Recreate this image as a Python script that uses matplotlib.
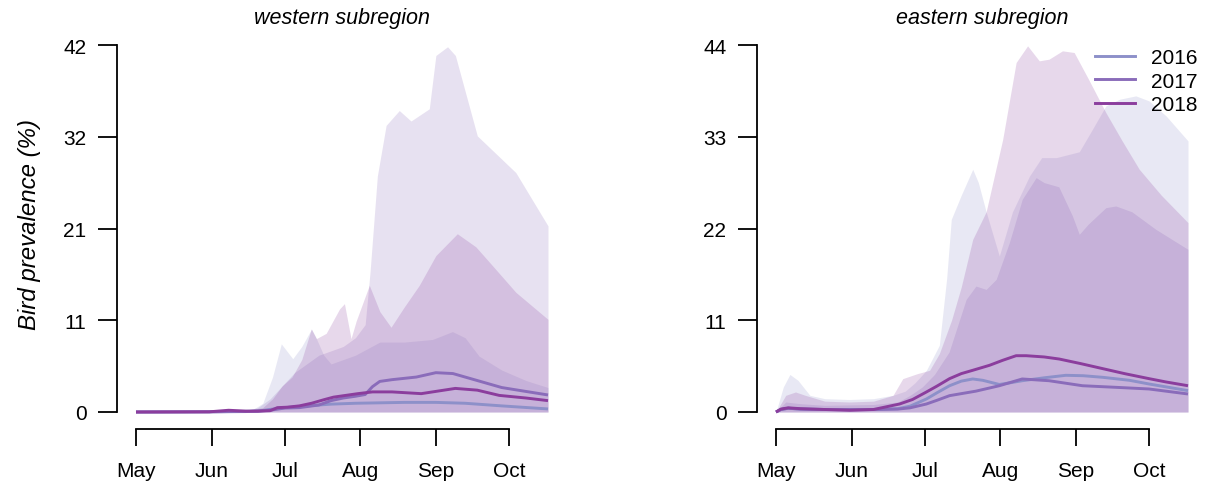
import matplotlib
matplotlib.use("Agg")
import matplotlib.pyplot as plt
from matplotlib.lines import Line2D

plt.rcParams["font.family"] = ["Liberation Sans", "DejaVu Sans"]

# days since 1 May
month_days = [0, 31, 61, 92, 123, 153]
month_labels = ["May", "Jun", "Jul", "Aug", "Sep", "Oct"]
years = ["2016", "2017", "2018"]
colors = ["#8d90c9", "#8a6cba", "#8b3d9d"]

# ---- western subregion ----
w16_day = [0, 30, 50, 55, 61, 70, 80, 90, 100, 110, 123, 135, 150, 169]
w16_mean = [0, 0.02, 0.1, 0.3, 0.5, 0.7, 0.9, 1.0, 1.05, 1.1, 1.1, 1.0, 0.7, 0.35]
w16_hi_day = [0, 40, 48, 52, 56, 59.6, 64.3, 68, 72, 74, 77, 80, 90, 100, 110, 121.6, 129.8, 135, 140.7, 150, 160, 169]
w16_hi = [0, 0.1, 0.3, 1.0, 4.0, 7.8, 6.1, 7.5, 9.5, 8.4, 6.5, 5.5, 6.5, 8.0, 8.0, 8.3, 9.2, 8.5, 6.4, 4.8, 3.6, 2.8]

w17_day = [0, 30, 45, 50, 55, 61, 67, 75, 80, 85, 90, 94, 97, 100, 105, 115, 123, 130, 140, 150, 160, 169]
w17_mean = [0, 0.02, 0.05, 0.1, 0.2, 0.45, 0.5, 0.8, 1.3, 1.6, 1.8, 2.0, 2.9, 3.5, 3.7, 4.0, 4.5, 4.4, 3.6, 2.8, 2.35, 1.95]
w17_hi_day = [0, 45, 50, 55, 60, 65, 70, 75, 80, 85, 90, 94, 96, 99, 102.6, 108, 112.8, 120.3, 123, 127.8, 131, 140, 155.8, 169]
w17_hi = [0, 0.2, 0.5, 1.5, 3.0, 4.5, 5.5, 6.5, 7.0, 7.5, 8.5, 10.0, 16.0, 27.0, 32.8, 34.5, 33.3, 34.7, 40.8, 41.8, 40.8, 31.6, 27.4, 21.3]

w18_day = [0, 30, 38, 45, 50, 55, 58, 62, 67, 72, 77, 81, 86, 91, 97, 105, 117, 124, 131, 140, 149, 160, 169]
w18_mean = [0, 0.02, 0.2, 0.1, 0.1, 0.15, 0.5, 0.55, 0.7, 1.0, 1.4, 1.7, 1.9, 2.1, 2.3, 2.3, 2.1, 2.4, 2.7, 2.5, 1.9, 1.6, 1.3]
w18_hi_day = [0, 45, 52, 56, 60, 64, 68, 71.9, 74, 78, 83.5, 85.5, 88.2, 90.3, 95.7, 100, 104.6, 110, 116.2, 123, 131.8, 139.4, 147, 155.8, 169]
w18_hi = [0, 0.2, 0.5, 1.5, 3.0, 4.0, 6.0, 9.5, 8.4, 9.0, 11.8, 12.4, 8.4, 10.4, 14.5, 11.5, 9.7, 12.0, 14.5, 17.9, 20.4, 18.9, 16.5, 13.7, 10.6]

# ---- eastern subregion ----
e16_day = [0, 2, 5, 10, 20, 40, 50, 55, 61.7, 66, 71.2, 76, 80.7, 84.8, 91.6, 96, 101, 110, 118.9, 126, 134, 145, 153, 169]
e16_mean = [0, 0.3, 0.45, 0.35, 0.3, 0.3, 0.4, 0.7, 1.56, 2.3, 3.15, 3.7, 3.96, 3.8, 3.3, 3.5, 3.75, 4.1, 4.4, 4.35, 4.16, 3.8, 3.36, 2.56]
e16_hi_day = [0, 3, 5.7, 9, 13.9, 20, 30, 40, 48, 53, 57, 61.7, 67, 70, 71.9, 76, 80.7, 83, 86.2, 91.6, 97, 104, 109, 115, 124.4, 130, 135.3, 141, 147.6, 153, 160, 169]
e16_hi = [0, 3.0, 4.5, 3.8, 2.0, 1.6, 1.5, 1.6, 2.0, 2.5, 3.5, 5.0, 8.0, 16.0, 23.1, 26.0, 29.1, 27.5, 24.0, 18.7, 24.0, 28.3, 30.5, 30.5, 31.2, 34.0, 36.7, 37.5, 37.9, 37.3, 35.5, 32.5]

e17_day = [0, 2, 5, 10, 20, 40, 50, 55, 61.7, 66, 71.2, 76, 82, 91.6, 101, 112, 125.7, 140, 153, 169]
e17_mean = [0, 0.3, 0.45, 0.35, 0.3, 0.3, 0.35, 0.5, 0.96, 1.4, 1.96, 2.2, 2.5, 3.15, 3.96, 3.75, 3.15, 2.95, 2.76, 2.16]
e17_hi_day = [0, 4, 10, 20, 40, 50, 55, 60, 65, 71, 78, 82, 86.2, 90.3, 95.7, 101, 106.7, 110, 116, 121.6, 124.4, 128, 135.3, 139.4, 146, 155.8, 169]
e17_hi = [0, 1.2, 1.0, 0.8, 0.9, 1.2, 2.0, 3.0, 4.5, 7.2, 13.5, 15.1, 14.7, 15.9, 20.3, 25.5, 28.1, 27.5, 27.0, 23.5, 21.3, 22.5, 24.5, 24.7, 24.0, 21.9, 19.5]

e18_day = [0, 2, 5, 10, 20, 30.3, 40, 50.7, 56, 61.7, 66, 71.2, 76, 80.7, 87.6, 93, 98.5, 102.6, 110, 116.2, 125, 134, 143, 153, 160, 169]
e18_mean = [0, 0.35, 0.5, 0.4, 0.3, 0.2, 0.3, 0.96, 1.5, 2.4, 3.1, 4.0, 4.6, 5.0, 5.6, 6.2, 6.75, 6.75, 6.6, 6.35, 5.8, 5.2, 4.6, 4.0, 3.6, 3.15]
e18_hi_day = [0, 4, 8, 12, 20, 30, 40, 48, 52, 58, 63, 67, 72, 76, 80.7, 86.2, 93, 98.5, 103.2, 108, 112, 117.5, 122.3, 128, 135.3, 142, 149, 158, 169]
e18_hi = [0, 2.0, 2.4, 2.0, 1.3, 1.2, 1.3, 2.0, 4.0, 4.6, 5.0, 7.0, 11.0, 15.0, 20.7, 24.0, 32.7, 41.9, 43.9, 42.1, 42.3, 43.3, 43.1, 40.0, 35.9, 32.5, 29.1, 26.0, 22.7]

west_ticks = [0, 10.5, 21, 31.5, 42]
west_labels = ["0", "11", "21", "32", "42"]
east_ticks = [0, 11, 22, 33, 44]
east_labels = ["0", "11", "22", "33", "44"]


def draw_panel(ax, bands, lines, ymax, yticks, ylabels, title):
    # credible bands first, then the mean curves on top
    for (d, hi), c in zip(bands, colors):
        ax.fill_between(d, 0, hi, color=c, alpha=0.2, lw=0)
    for (d, m), c in zip(lines, colors):
        ax.plot(d, m, color=c, lw=2.1, clip_on=False, solid_capstyle="butt",
                solid_joinstyle="round")

    ax.set_xlim(0, 169)
    ax.set_ylim(0, ymax)
    for s in ["top", "right"]:
        ax.spines[s].set_visible(False)
    ax.spines["left"].set_position(("outward", 13.7))
    ax.spines["bottom"].set_position(("outward", 12.2))
    ax.spines["left"].set_bounds(0, ymax)
    ax.spines["bottom"].set_bounds(0, 153)
    for s in ["left", "bottom"]:
        ax.spines[s].set_linewidth(1.3)
    ax.set_xticks(month_days)
    ax.set_xticklabels(month_labels)
    ax.set_yticks(yticks)
    ax.set_yticklabels(ylabels)
    ax.tick_params(axis="y", length=14, width=1.3, pad=8, labelsize=15)
    ax.tick_params(axis="x", length=12, width=1.3, pad=11, labelsize=15)
    ax.text(0.5, 1.076, title, transform=ax.transAxes, ha="center",
            va="center", fontsize=15.5, style="italic")


fig = plt.figure(figsize=(12.06, 4.85), dpi=100)
ax1 = fig.add_axes([136 / 1206, 72 / 485, 412 / 1206, 367 / 485])
ax2 = fig.add_axes([776 / 1206, 72 / 485, 412 / 1206, 367 / 485])

draw_panel(ax1,
           [(w16_hi_day, w16_hi), (w17_hi_day, w17_hi), (w18_hi_day, w18_hi)],
           [(w16_day, w16_mean), (w17_day, w17_mean), (w18_day, w18_mean)],
           42, west_ticks, west_labels, "western subregion")
draw_panel(ax2,
           [(e16_hi_day, e16_hi), (e17_hi_day, e17_hi), (e18_hi_day, e18_hi)],
           [(e16_day, e16_mean), (e17_day, e17_mean), (e18_day, e18_mean)],
           44, east_ticks, east_labels, "eastern subregion")

fig.text(30 / 1206, 1 - 224 / 485, "Bird prevalence (%)", rotation=90,
         ha="center", va="center", fontsize=17.3, style="italic")

handles = [Line2D([], [], color=c, lw=2.1) for c in colors]
ax2.legend(handles, years, loc="upper right", frameon=False, fontsize=15,
           bbox_to_anchor=(1198 / 1206, 1 - 49 / 485),
           bbox_transform=fig.transFigure, borderaxespad=0, borderpad=0,
           handlelength=1.9, handletextpad=0.8, labelspacing=0.22)

fig.savefig("out.png", dpi=100)
